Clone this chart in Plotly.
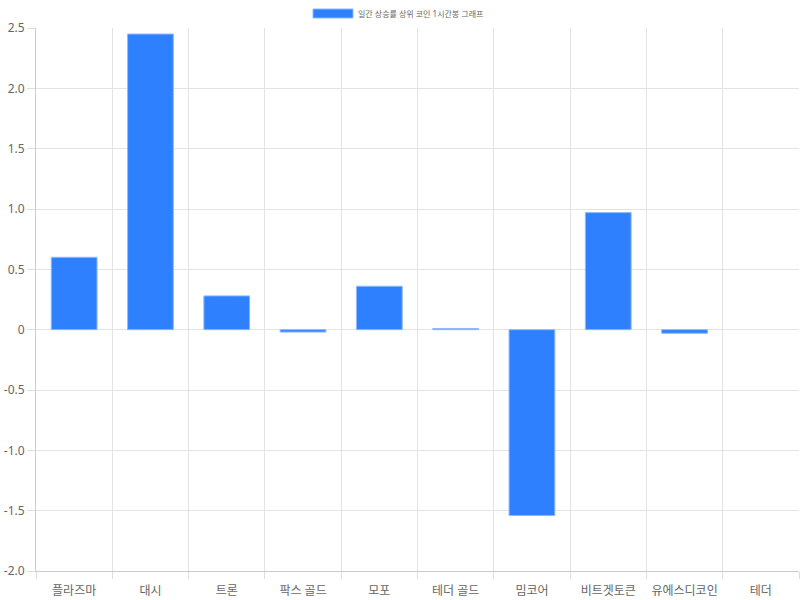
import plotly.graph_objects as go

coins = ["플라즈마", "대시", "트론", "팍스 골드", "모포", "테더 골드", "밈코어", "비트겟토큰", "유에스디코인", "테더"]
change = [0.60, 2.45, 0.28, -0.02, 0.36, 0.01, -1.54, 0.97, -0.03, 0.0]
series_name = "일간 상승률 상위 코인 1시간봉 그래프"
y_ticks = [2.5, 2.0, 1.5, 1.0, 0.5, 0, -0.5, -1.0, -1.5, -2.0]
y_labels = ["2.5", "2.0", "1.5", "1.0", "0.5", "0", "-0.5", "-1.0", "-1.5", "-2.0"]

BLUE = "#2F80FF"
EDGE = "#8DB9FF"
FONT = "Noto Sans, Noto Sans CJK KR, sans-serif"

fig = go.Figure(
    go.Bar(
        x=coins,
        y=change,
        name=series_name,
        width=0.6,
        marker=dict(
            color=BLUE,
            # no outline on an empty (zero) bar, like Chart.js
            line=dict(color=EDGE, width=[0 if v == 0 else 1 for v in change]),
        ),
    )
)

fig.update_layout(
    width=800,
    height=600,
    margin=dict(l=36, r=1, t=28, b=29),
    paper_bgcolor="white",
    plot_bgcolor="white",
    font=dict(family=FONT, size=12, color="#666666"),
    showlegend=False,
)

PW, PH = 763, 543
# legend drawn as a wide swatch + label (Chart.js style)
fig.add_shape(type="rect", xref="paper", yref="paper",
              x0=(313 - 36) / PW, x1=(353 - 36) / PW,
              y0=1 + (28 - 18) / PH, y1=1 + (28 - 9) / PH,
              fillcolor=BLUE, line=dict(color=EDGE, width=1))
fig.add_annotation(text=series_name, xref="paper", yref="paper",
                   x=(356 - 36) / PW, y=1 + (28 - 13.5) / PH,
                   xanchor="left", yanchor="middle", showarrow=False,
                   font=dict(size=8, color="#666666"))

fig.update_xaxes(
    automargin=False,
    tickson="boundaries",
    ticks="outside",
    ticklen=7,
    tickcolor="#dddddd",
    ticklabelstandoff=9,
    showgrid=True,
    gridcolor="#e3e3e3",
    showline=True,
    linecolor="#cccccc",
    tickfont=dict(size=12, color="#666666"),
)
fig.update_yaxes(
    automargin=False,
    range=[-2.0, 2.5],
    tickvals=y_ticks,
    ticktext=y_labels,
    ticks="outside",
    ticklen=8,
    tickcolor="#dddddd",
    showgrid=True,
    gridcolor="#e3e3e3",
    zeroline=False,
    showline=True,
    linecolor="#cccccc",
    tickfont=dict(size=12, color="#666666"),
)

# drop the browser's default 8px body margin so the chart sits at 0,0
fig.write_html(
    "out.html",
    config={"displayModeBar": False},
    post_script="document.body.style.margin='0';",
)
